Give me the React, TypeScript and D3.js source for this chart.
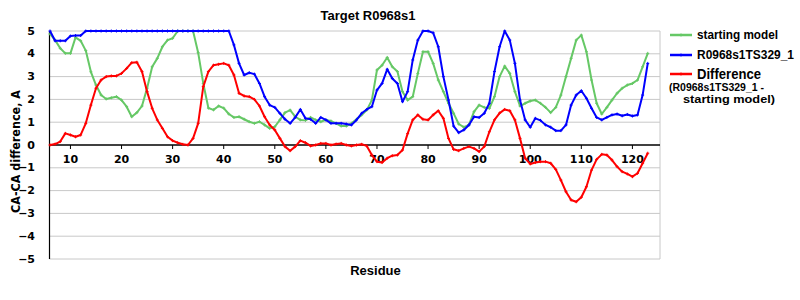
import React from "react";
import * as d3 from "d3";

const firstResidue = 6;

const startingModel = [
  4.87, 4.6, 4.24, 4.02, 4.02, 4.72, 4.57, 4.14, 3.21, 2.63,
  2.19, 2.02, 2.07, 2.12, 1.97, 1.68, 1.24, 1.42, 1.71, 2.49,
  3.43, 3.8, 4.31, 4.6, 4.68, 5, 5, 5, 5, 4.05,
  2.7, 1.62, 1.54, 1.71, 1.62, 1.36, 1.21, 1.24, 1.13, 1.02,
  0.95, 1.02, 0.88, 0.73, 0.8, 1.1, 1.42, 1.53, 1.24, 1.1,
  1.08, 1.21, 1.1, 1.02, 1.1, 1.05, 0.95, 0.83, 0.83, 0.95,
  1.13, 1.32, 1.53, 1.97, 3.29, 3.5, 3.84, 3.43, 3.22, 2.34,
  1.97, 2.12, 3.14, 4.09, 4.09, 3.58, 2.85, 2.34, 1.83, 1.39,
  0.92, 0.78, 0.88, 1.46, 1.75, 1.65, 1.61, 2.12, 3.0, 3.46,
  3.14, 2.34, 1.71, 1.83, 1.93, 1.97, 1.83, 1.65, 1.42, 1.65,
  2.19, 3.0, 3.8, 4.6, 4.82, 4.09, 2.85, 1.83, 1.36, 1.65,
  1.97, 2.27, 2.49, 2.63, 2.7, 2.85, 3.43, 4.02,
];

const modelTS329 = [
  5, 4.57, 4.57, 4.57, 4.78, 4.8, 4.8, 5, 5, 5,
  5, 5, 5, 5, 5, 5, 5, 5, 5, 5,
  5, 5, 5, 5, 5, 5, 5, 5, 5, 5,
  5, 5, 5, 5, 5, 5, 4.39, 3.58, 3.07, 3.17,
  3.11, 2.7, 2.12, 1.75, 1.65, 1.39, 1.13, 0.95, 1.21, 1.56,
  1.17, 1.13, 0.95, 1.21, 1.1, 0.95, 0.95, 0.95, 0.92, 0.88,
  1.1, 1.39, 1.56, 1.68, 2.41, 2.7, 3.32, 2.92, 2.7, 1.9,
  2.34, 3.73, 4.6, 5, 5, 4.92, 4.31, 3.0, 1.97, 0.83,
  0.54, 0.66, 0.88, 1.24, 1.21, 1.39, 1.83, 3.22, 4.31, 5,
  4.6, 3.58, 1.97, 1.1, 0.78, 1.17, 1.08, 0.88, 0.78, 0.63,
  0.63, 0.88, 1.75, 2.19, 2.38, 2.05, 1.61, 1.21, 1.1, 1.21,
  1.32, 1.36, 1.28, 1.34, 1.27, 1.32, 2.19, 3.58,
];

const difference = [
  0, 0.04, 0.15, 0.51, 0.44, 0.36, 0.44, 0.95, 1.75, 2.49,
  2.85, 3.0, 3.03, 3.03, 3.14, 3.36, 3.61, 3.63, 3.22, 2.34,
  1.61, 1.1, 0.73, 0.36, 0.19, 0.1, 0.03, 0, 0.29, 0.95,
  2.56, 3.22, 3.5, 3.54, 3.58, 3.5, 3.07, 2.27, 2.15, 2.12,
  2.0, 1.71, 1.24, 0.88, 0.66, 0.29, -0.07, -0.25, -0.07, 0.19,
  0.1, -0.04, 0, 0.07, 0.07, 0, 0.04, 0.07, 0, -0.04,
  0, 0.03, -0.04, -0.44, -0.73, -0.77, -0.58, -0.47, -0.44, -0.22,
  0.5, 1.1, 1.32, 1.13, 1.1, 1.32, 1.5, 1.17, 0.29, -0.19,
  -0.25, -0.15, -0.07, -0.15, -0.29, -0.07, 0.58, 1.1, 1.4, 1.56,
  1.5, 1.1, 0.29, -0.58, -0.83, -0.77, -0.73, -0.73, -0.8, -1.07,
  -1.54, -2.05, -2.41, -2.49, -2.29, -1.83, -1.1, -0.63, -0.41, -0.44,
  -0.66, -0.95, -1.17, -1.27, -1.39, -1.24, -0.8, -0.36,
];

const xTicks = [10, 20, 30, 40, 50, 60, 70, 80, 90, 100, 110, 120];
const yTicks = [5, 4, 3, 2, 1, 0, -1, -2, -3, -4, -5];

const seriesList = [
  { name: "starting model", values: startingModel, color: "#66c866" },
  { name: "R0968s1TS329_1", values: modelTS329, color: "#0000ff" },
  { name: "Difference", values: difference, color: "#ff0000" },
];

const W = 800;
const H = 300;
const left = 49.5;
const right = 660;
const top = 31;
const bottom = 259;

export default function App() {
  const x = d3.scaleLinear().domain([5.9, 125.4]).range([left, right]);
  const y = d3.scaleLinear().domain([-5, 5]).range([bottom, top]);
  const line = d3
    .line<number>()
    .x((_, i) => x(firstResidue + i))
    .y((d) => y(d));
  const sansBold = "'Liberation Sans', Arial, sans-serif";
  const dejaBold = "'DejaVu Sans', Verdana, sans-serif";

  return (
    <svg
      width={W}
      height={H}
      style={{ position: "absolute", left: 0, top: 0, background: "#fff" }}
    >
      <rect x={0} y={0} width={W} height={H} fill="#fff" />
      {/* gridlines */}
      {yTicks
        .filter((t) => t !== 0)
        .map((t) => (
          <line
            key={"g" + t}
            x1={left}
            x2={right}
            y1={y(t)}
            y2={y(t)}
            stroke="#c8c8c8"
            strokeWidth={1}
          />
        ))}
      <line x1={right} x2={right} y1={top} y2={bottom} stroke="#c8c8c8" strokeWidth={1} />
      {/* y axis */}
      <line x1={left} x2={left} y1={top} y2={bottom} stroke="#000" strokeWidth={1.2} />
      {yTicks.map((t) => (
        <text
          key={"yl" + t}
          x={35}
          y={y(t)}
          textAnchor="end"
          dominantBaseline="central"
          fontFamily={dejaBold}
          fontWeight="bold"
          fontSize={11}
          fill="#000"
        >
          {t < 0 ? "\u2212" + Math.abs(t) : String(t)}
        </text>
      ))}
      {/* zero axis */}
      <line x1={left} x2={right} y1={y(0)} y2={y(0)} stroke="#000" strokeWidth={1.5} />
      {xTicks.map((t) => (
        <g key={"xt" + t}>
          <line x1={x(t)} x2={x(t)} y1={y(0)} y2={y(0) + 4} stroke="#000" strokeWidth={1} />
          <text
            x={x(t)}
            y={163}
            textAnchor="middle"
            fontFamily={dejaBold}
            fontWeight="bold"
            fontSize={11}
            fill="#000"
          >
            {t}
          </text>
        </g>
      ))}
      {/* series */}
      {seriesList.map((s) => (
        <g key={s.name}>
          <path d={line(s.values) || ""} fill="none" stroke={s.color} strokeWidth={2} strokeLinejoin="round" />
          {s.values.map((v, i) => (
            <path
              key={i}
              transform={`translate(${x(firstResidue + i)},${y(v)})`}
              d="M-1.5,0H1.5M0,-1.5V1.5"
              stroke={s.color}
              strokeWidth={1}
            />
          ))}
        </g>
      ))}
      {/* title */}
      <text x={368} y={20} textAnchor="middle" fontFamily={sansBold} fontWeight="bold" fontSize={13} textLength={95} lengthAdjust="spacingAndGlyphs">
        Target R0968s1
      </text>
      <text x={375.5} y={275} textAnchor="middle" fontFamily={sansBold} fontWeight="bold" fontSize={13}>
        Residue
      </text>
      <text
        transform={`translate(16,151.5) rotate(-90)`}
        textAnchor="middle"
        dominantBaseline="central"
        fontFamily={dejaBold}
        fontWeight="bold"
        fontSize={12}
        textLength={123}
        lengthAdjust="spacingAndGlyphs"
      >
        CA-CA difference, A
      </text>
      {/* legend */}
      {seriesList.map((s, i) => {
        const ly = [35, 55, 74][i];
        return (
          <g key={"lg" + s.name}>
            <line x1={670} x2={692} y1={ly} y2={ly} stroke={s.color} strokeWidth={2.5} />
            <path transform={`translate(681,${ly})`} d="M-1.5,0H1.5M0,-1.5V1.5" stroke={s.color} strokeWidth={1} />
            <text
              x={697}
              y={ly}
              dominantBaseline="central"
              fontFamily={sansBold}
              fontWeight="bold"
              fontSize={i === 2 ? 14 : 12.5}
              textLength={[81, 97, 64][i]}
              lengthAdjust="spacingAndGlyphs"
            >
              {s.name}
            </text>
          </g>
        );
      })}
      <text x={669} y={87} dominantBaseline="central" fontFamily={sansBold} fontWeight="bold" fontSize={11} textLength={95} lengthAdjust="spacingAndGlyphs">
        (R0968s1TS329_1 -
      </text>
      <text x={683} y={98.5} dominantBaseline="central" fontFamily={sansBold} fontWeight="bold" fontSize={11} textLength={92} lengthAdjust="spacingAndGlyphs">
        starting model)
      </text>
    </svg>
  );
}
